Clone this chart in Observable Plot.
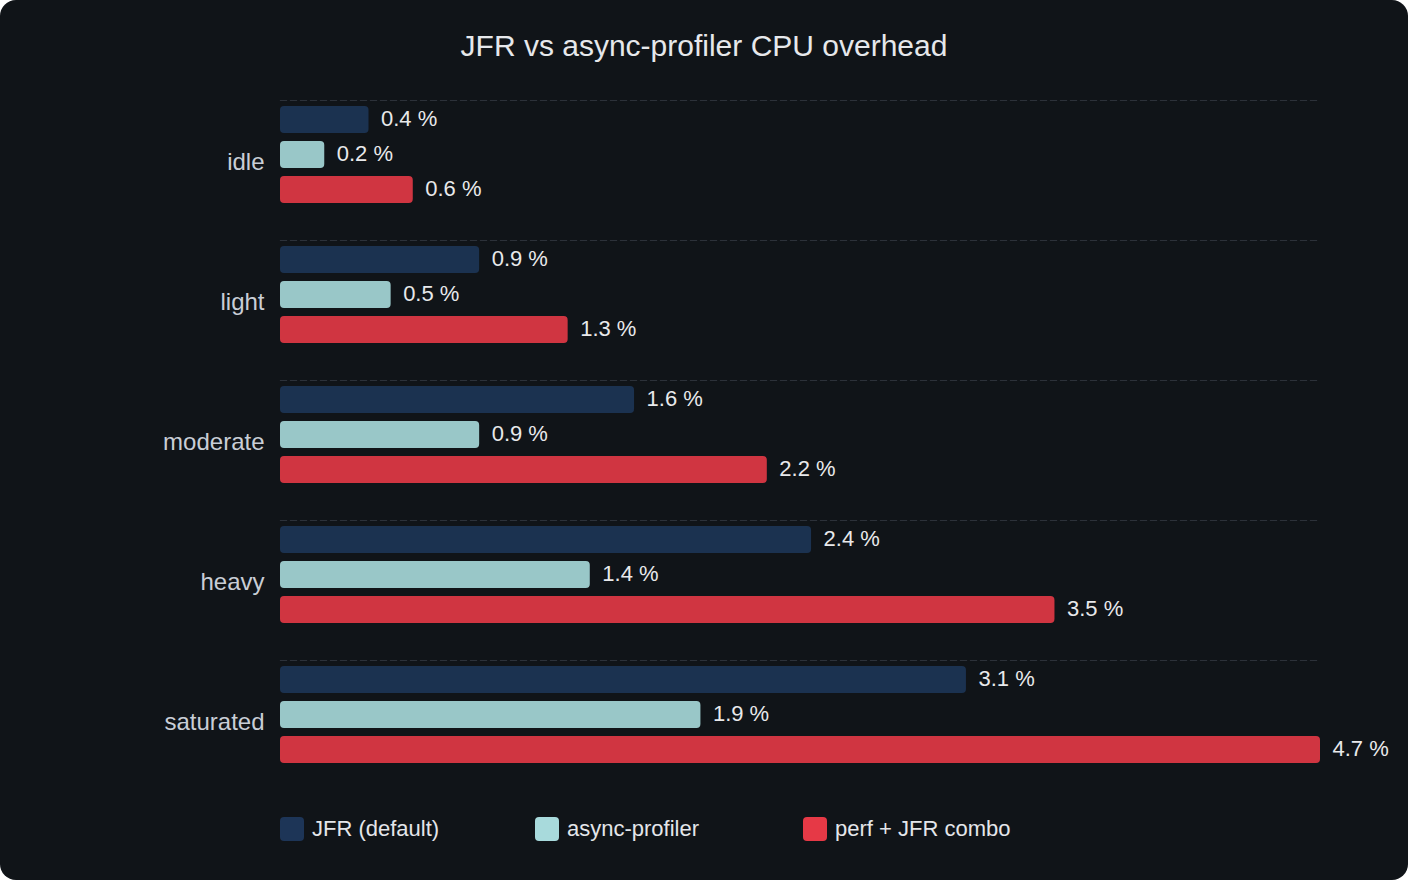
<!DOCTYPE html>
<html>
<head>
<meta charset="utf-8">
<script src="https://cdn.jsdelivr.net/npm/d3@7"></script>
<script src="https://cdn.jsdelivr.net/npm/@observablehq/plot@0.6"></script>
<style>
  html, body { margin: 0; padding: 0; background: #ffffff; }
  #card {
    position: relative; width: 1408px; height: 880px; background: #101418;
    border-radius: 16px; overflow: hidden;
    font-family: "Liberation Sans", Arial, Helvetica, sans-serif;
  }
  #title {
    position: absolute; left: 0; top: 30px; width: 1408px; height: 32px; line-height: 32px;
    text-align: center; font-size: 30px; color: #e6e8eb;
  }
  #chart { position: absolute; left: 0; top: 0; }
  .lg { position: absolute; top: 817px; height: 24px; display: flex; align-items: center; font-size: 22px; color: #e4e6ea; }
  .sw { width: 24px; height: 24px; border-radius: 4px; margin-right: 8px; flex: none; }
</style>
</head>
<body>
<div id="card">
  <div id="title">JFR vs async-profiler CPU overhead</div>
  <div id="chart"></div>
  <div id="legend"></div>
</div>
<script>
const groups = ["idle", "light", "moderate", "heavy", "saturated"];
const series = ["JFR (default)", "async-profiler", "perf + JFR combo"];
const jfrValues = [0.4, 0.9, 1.6, 2.4, 3.1];
const asyncValues = [0.2, 0.5, 0.9, 1.4, 1.9];
const comboValues = [0.6, 1.3, 2.2, 3.5, 4.7];
const colors = ["#1d3557", "#a8dadc", "#e63946"];
const legendX = [280, 535, 803];

const seriesValues = [jfrValues, asyncValues, comboValues];
const data = groups.flatMap((g, i) =>
  series.map((s, j) => ({group: g, series: s, value: seriesValues[j][i]}))
);

const chart = Plot.plot({
  width: 1408,
  height: 800,
  marginTop: 100,
  marginBottom: 30,
  marginLeft: 280,
  marginRight: 88,
  style: {background: "transparent", fontFamily: "'Liberation Sans', Arial, Helvetica, sans-serif", overflow: "visible"},
  x: {domain: [0, 4.7], axis: null},
  fy: {domain: groups, paddingInner: 0.2143, paddingOuter: 0, label: null},
  y: {domain: series, axis: null, paddingInner: 0.2222, paddingOuter: 0.139},
  color: {domain: series, range: colors},
  marks: [
    Plot.frame({anchor: "top", stroke: "#2c3139", strokeWidth: 1.2, strokeDasharray: "6,4"}),
    Plot.barX(data, {fy: "group", y: "series", x: "value", fill: "series", fillOpacity: 0.9, rx: 4}),
    Plot.text(data, {
      fy: "group", y: "series", x: "value",
      text: d => `${d.value.toFixed(1)} %`,
      dx: 12, dy: -1, textAnchor: "start", fill: "#e8e9eb", fontSize: 22
    }),
    Plot.axisFy({anchor: "left", tickSize: 0, tickPadding: 16, fontSize: 24, fill: "#c9ced6", dy: 7, label: null})
  ]
});
document.getElementById("chart").appendChild(chart);

const legend = document.getElementById("legend");
series.forEach((s, i) => {
  const item = document.createElement("div");
  item.className = "lg";
  item.style.left = legendX[i] + "px";
  const sw = document.createElement("div");
  sw.className = "sw";
  sw.style.background = colors[i];
  const tx = document.createElement("span");
  tx.textContent = s;
  item.appendChild(sw);
  item.appendChild(tx);
  legend.appendChild(item);
});
</script>
</body>
</html>
